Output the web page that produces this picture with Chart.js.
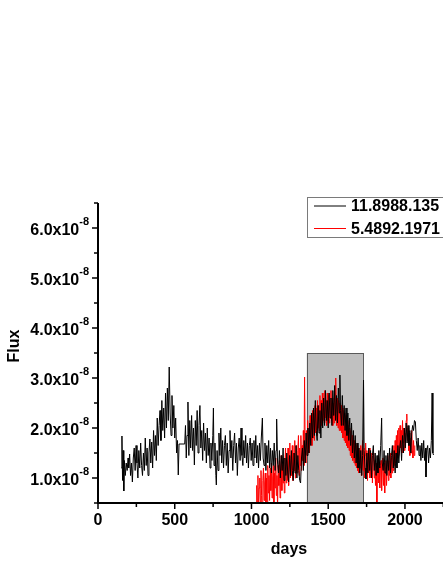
<!DOCTYPE html>
<html>
<head>
<meta charset="utf-8">
<script src="https://cdn.jsdelivr.net/npm/chart.js@4"></script>
<style>
    html, body { margin: 0; padding: 0; background: #fff; overflow: hidden; }
    #wrap { width: 443px; height: 573px; overflow: hidden; }
</style>
</head>
<body>
<div id="wrap"><canvas id="fluxChart" width="460" height="573"></canvas></div>
<script>
// flux values are in units of 1e-8
const seriesNames = ['11.8988.135', '5.4892.1971'];

const blackDays = [
    152,156,160,164,168,172,178,184,190,196,
    200,206,212,218,224,230,236,242,248,254,
    260,266,272,278,284,290,296,302,308,314,
    320,326,332,338,344,350,356,362,368,374,
    380,386,392,398,404,410,416,422,428,434,
    440,446,452,458,464,470,476,482,488,494,
    500,506,512,518,523,528,565,570,575,580,
    586,592,598,604,610,616,622,628,634,640,
    646,652,658,664,670,676,682,688,694,700,
    706,712,718,724,730,736,742,748,752,756,
    762,768,771,776,782,788,794,800,806,812,
    818,824,830,836,842,848,854,860,866,872,
    878,884,890,896,902,908,914,920,926,932,
    938,944,950,956,962,968,974,980,986,992,
    998,1004,1010,1016,1022,1028,1034,1040,1046,1052,
    1058,1064,1071,1076,1082,1088,1094,1100,1106,1112,
    1118,1124,1130,1136,1142,1148,1154,1160,1164,1170,
    1176,1182,1188,1194,1200,1206,1212,1218,1224,1230,
    1236,1242,1248,1254,1260,1266,1272,1278,1284,1290,
    1296,1302,1308,1314,1320,1326,1332,1338,1344,1350,
    1356,1362,1368,1374,1380,1386,1392,1398,1404,1410,
    1416,1422,1428,1434,1440,1446,1452,1458,1464,1470,
    1476,1482,1488,1494,1500,1506,1512,1518,1524,1530,
    1536,1542,1548,1554,1560,1566,1572,1576,1580,1586,
    1592,1598,1604,1610,1616,1622,1628,1634,1640,1646,
    1652,1658,1664,1670,1676,1682,1688,1694,1700,1706,
    1712,1718,1724,1730,1734,1740,1746,1752,1758,1764,
    1770,1776,1782,1788,1794,1800,1806,1812,1818,1824,
    1830,1836,1842,1848,1852,1858,1864,1870,1876,1882,
    1888,1894,1900,1906,1912,1918,1924,1930,1936,1942,
    1948,1954,1960,1966,1972,1978,1984,1990,1996,2002,
    2008,2014,2020,2026,2032,2038,2044,2050,2056,2062,
    2068,2074,2080,2086,2092,2098,2104,2110,2116,2122,
    2128,2134,2137,2142,2148,2154,2160,2166,2172,2177,
    2182,2186
];
const blackFlux = [
    1.20,1.84,0.95,1.55,0.74,1.35,1.05,1.30,1.15,1.40,
    1.20,1.48,1.05,1.30,0.92,1.40,1.60,1.15,1.65,1.30,
    1.00,1.55,1.20,1.70,1.25,1.05,1.50,1.15,1.80,1.25,
    1.60,1.05,1.50,1.78,1.30,1.72,1.20,1.95,1.45,1.85,
    1.35,2.20,1.65,2.05,2.35,1.75,2.55,1.95,2.40,1.80,
    2.70,2.00,2.80,2.15,3.22,2.30,1.85,2.65,2.00,2.45,
    1.80,2.20,1.50,1.75,1.06,1.68,1.68,2.05,1.40,1.85,
    2.52,1.45,2.15,1.60,2.25,1.55,2.00,1.26,2.15,1.65,
    2.35,1.50,2.05,2.45,1.60,1.95,1.35,2.10,1.55,1.90,
    1.30,2.00,1.45,1.80,1.20,1.70,1.35,1.85,2.40,1.25,
    1.70,1.05,0.86,1.55,1.15,1.90,1.45,2.00,1.30,1.75,
    1.20,1.65,1.85,1.25,1.70,1.10,1.55,1.95,1.40,1.75,
    1.15,1.65,1.90,1.30,1.70,1.05,1.60,1.80,1.35,2.00,
    1.45,1.25,1.75,1.40,1.85,1.30,1.70,1.20,1.65,1.80,
    1.35,1.70,1.25,1.75,1.40,1.85,1.30,1.65,1.20,1.70,
    1.35,1.80,2.20,1.40,1.25,1.70,1.15,1.65,1.30,1.75,
    1.20,1.60,1.10,1.55,1.25,1.70,1.15,1.55,2.18,1.30,
    1.10,1.55,1.00,1.45,1.15,1.60,0.95,1.40,1.05,1.50,
    1.10,0.92,1.45,1.05,1.55,1.15,0.95,1.50,1.10,1.65,
    1.00,1.45,1.15,0.95,0.90,1.40,1.60,1.15,1.75,1.30,
    1.90,1.45,2.00,1.50,2.10,1.65,2.30,1.80,2.40,1.85,
    2.55,1.95,1.75,2.45,1.90,2.35,1.80,2.50,2.00,2.60,
    2.05,2.75,2.15,2.55,2.00,2.70,2.20,2.60,2.05,2.75,
    2.25,2.85,2.15,2.65,2.10,2.80,2.30,3.06,2.35,2.05,
    2.65,2.05,2.45,1.95,2.40,1.85,2.30,1.75,2.20,1.65,
    2.10,1.50,1.95,1.40,1.85,1.30,1.70,1.20,1.60,1.10,
    1.55,1.05,1.45,2.96,1.55,1.20,0.98,1.50,1.10,1.60,
    1.15,1.55,1.00,1.45,1.65,1.15,1.50,1.05,1.45,1.10,
    1.55,1.20,1.65,2.20,1.30,1.15,1.55,1.10,1.45,1.05,
    1.50,1.15,1.60,1.10,1.45,1.65,1.20,1.55,1.10,1.50,
    1.20,1.65,1.30,1.60,1.75,1.35,1.85,1.50,2.00,1.60,
    2.10,1.70,2.05,1.65,1.95,1.50,1.90,2.05,1.95,2.15,
    2.12,1.75,1.55,1.80,1.45,1.65,1.35,1.70,1.40,1.75,
    1.35,1.60,1.02,1.55,1.65,1.30,1.60,1.40,1.75,2.70,
    1.50,1.46
];

const redDays = [
    1030,1034,1038,1042,1046,1050,1054,1058,1062,1066,
    1070,1074,1078,1082,1086,1090,1094,1098,1102,1106,
    1110,1114,1118,1122,1126,1130,1134,1138,1142,1146,
    1150,1154,1158,1162,1166,1170,1174,1178,1182,1186,
    1190,1194,1198,1202,1206,1210,1214,1218,1222,1226,
    1230,1234,1238,1242,1246,1250,1254,1258,1262,1266,
    1270,1274,1278,1282,1286,1290,1294,1298,1302,1306,
    1310,1314,1318,1322,1326,1330,1334,1338,1342,1346,
    1350,1354,1358,1362,1366,1370,1374,1378,1382,1386,
    1390,1394,1398,1402,1406,1410,1414,1418,1422,1426,
    1430,1434,1438,1442,1446,1450,1454,1458,1462,1466,
    1470,1474,1478,1482,1486,1490,1494,1498,1502,1506,
    1510,1514,1518,1522,1526,1530,1534,1538,1542,1546,
    1549,1552,1556,1560,1564,1568,1572,1576,1580,1584,
    1588,1592,1596,1600,1604,1608,1612,1616,1620,1624,
    1628,1632,1636,1640,1644,1648,1652,1656,1660,1664,
    1668,1672,1676,1680,1684,1688,1692,1696,1700,1704,
    1708,1712,1716,1720,1724,1728,1732,1736,1740,1744,
    1748,1752,1756,1760,1764,1768,1772,1776,1780,1784,
    1788,1792,1796,1800,1804,1808,1812,1817,1820,1824,
    1828,1832,1836,1840,1844,1848,1852,1856,1860,1864,
    1868,1872,1876,1880,1884,1888,1892,1896,1900,1904,
    1908,1912,1916,1920,1924,1928,1932,1936,1940,1944,
    1948,1952,1956,1960,1964,1968,1972,1976,1980,1984,
    1988,1992,1996,2000,2004,2008,2012,2016,2020,2024,
    2028,2032,2036,2040,2044,2048,2052,2056,2060,2064
];
const redFlux = [
    0.40,0.85,0.50,1.05,0.35,0.80,1.00,0.45,1.15,0.65,
    0.30,0.95,1.20,0.55,0.90,1.10,0.45,1.00,0.35,1.25,
    0.70,1.05,0.55,1.20,0.75,1.30,0.60,1.00,1.25,0.50,
    1.10,0.80,1.40,0.65,1.05,0.40,1.25,0.85,1.35,0.60,
    1.15,1.45,0.75,1.25,0.90,1.40,0.70,1.30,1.60,0.90,
    1.35,0.95,1.60,0.85,1.40,1.70,1.00,1.45,1.05,1.65,
    0.95,1.50,1.15,1.75,1.00,1.45,1.65,1.10,1.55,1.85,
    1.05,1.60,1.25,1.85,1.15,1.65,1.35,1.95,1.25,3.02,
    1.55,1.30,1.95,1.45,2.15,1.60,2.00,1.50,2.25,1.70,
    2.20,1.65,2.35,1.80,2.30,1.75,2.45,1.90,2.40,1.85,
    2.55,2.00,2.45,1.95,2.65,2.10,2.55,2.05,2.70,2.15,
    2.60,2.10,2.75,2.20,2.55,2.05,2.70,2.15,2.65,2.10,
    2.55,2.20,2.75,2.15,2.60,2.05,2.50,2.10,2.70,2.20,
    3.00,2.25,2.05,2.60,2.00,2.55,1.95,2.50,1.95,2.45,
    1.90,2.40,1.80,2.35,1.75,2.30,1.70,2.25,1.65,2.15,
    1.60,2.05,1.55,2.00,1.45,1.95,1.40,1.85,1.35,1.80,
    1.30,1.75,1.25,1.70,1.20,1.65,1.15,1.60,1.10,1.55,
    1.20,1.65,1.05,1.50,1.75,1.15,1.60,1.00,1.45,1.70,
    1.10,1.55,0.95,1.50,1.10,1.60,1.00,1.45,1.05,1.50,
    0.90,1.35,1.50,1.00,1.35,0.85,1.30,0.40,1.25,1.40,
    0.90,1.30,0.80,1.25,1.35,0.75,1.20,1.40,0.85,1.30,
    0.70,1.20,1.35,0.85,1.25,1.45,0.95,1.35,1.05,1.50,
    1.00,1.40,1.10,1.55,1.15,1.65,1.25,1.75,1.30,1.85,
    1.40,1.95,1.45,2.00,1.55,2.05,1.60,1.95,1.50,2.15,
    1.70,2.00,1.55,1.90,1.65,2.15,2.28,1.75,2.00,1.55,
    1.90,1.45,1.80,1.50,1.95,1.55,1.40,1.75,1.45,1.65
];

// shaded interval: [startDay, endDay, lowFlux, highFlux]
const shadeBox = [1360, 1727, 0.5, 3.5];

const xRange = [0, 2300];
const yRange = [0.5, 6.5];
const xMajorTicks = [0, 500, 1000, 1500, 2000];
const xMinorTicks = [250, 750, 1250, 1750, 2250];
const yMajorTicks = [1, 2, 3, 4, 5, 6];
const yMinorTicks = [0.5, 1.5, 2.5, 3.5, 4.5, 5.5, 6.5];

const FONT = '"Liberation Sans", Arial, sans-serif';

function toPoints(days, flux) {
    return days.map((d, i) => ({ x: d, y: flux[i] }));
}

const shadePlugin = {
    id: 'shade',
    beforeDatasetsDraw(chart) {
        const { ctx, scales: { x, y } } = chart;
        const x0 = x.getPixelForValue(shadeBox[0]);
        const x1 = x.getPixelForValue(shadeBox[1]);
        const y0 = y.getPixelForValue(shadeBox[3]);
        const y1 = y.getPixelForValue(shadeBox[2]);
        ctx.save();
        ctx.fillStyle = '#c0c0c0';
        ctx.fillRect(x0, y0, x1 - x0, y1 - y0);
        ctx.strokeStyle = '#5a5a5a';
        ctx.lineWidth = 1;
        ctx.strokeRect(Math.round(x0) + 0.5, Math.round(y0) + 0.5, Math.round(x1 - x0), Math.round(y1 - y0));
        ctx.restore();
    }
};

const axesPlugin = {
    id: 'originAxes',
    afterDatasetsDraw(chart) {
        const { ctx, chartArea: a, scales: { x, y } } = chart;
        ctx.save();
        ctx.strokeStyle = '#000';
        ctx.fillStyle = '#000';

        // axis lines
        ctx.lineWidth = 2;
        ctx.beginPath();
        ctx.moveTo(a.left, a.top);
        ctx.lineTo(a.left, a.bottom);
        ctx.lineTo(chart.width, a.bottom);
        ctx.stroke();

        // ticks
        ctx.lineWidth = 1.5;
        ctx.beginPath();
        yMajorTicks.forEach(v => { const p = y.getPixelForValue(v); ctx.moveTo(a.left - 6, p); ctx.lineTo(a.left, p); });
        yMinorTicks.forEach(v => { const p = y.getPixelForValue(v); ctx.moveTo(a.left - 4, p); ctx.lineTo(a.left, p); });
        xMajorTicks.forEach(v => { const p = x.getPixelForValue(v); ctx.moveTo(p, a.bottom); ctx.lineTo(p, a.bottom + 6); });
        xMinorTicks.forEach(v => { const p = x.getPixelForValue(v); ctx.moveTo(p, a.bottom); ctx.lineTo(p, a.bottom + 4); });
        ctx.stroke();

        // y tick labels with superscript exponent
        ctx.textBaseline = 'alphabetic';
        yMajorTicks.forEach(v => {
            const p = y.getPixelForValue(v);
            ctx.font = 'bold 11px ' + FONT;
            ctx.textAlign = 'right';
            ctx.fillText('-8', 89, p - 3);
            const supW = ctx.measureText('-8').width;
            ctx.font = 'bold 16px ' + FONT;
            ctx.fillText(v.toFixed(1) + 'x10', 89 - supW, p + 7);
        });

        // x tick labels
        ctx.font = 'bold 16px ' + FONT;
        ctx.textAlign = 'center';
        ctx.textBaseline = 'middle';
        xMajorTicks.forEach(v => {
            ctx.fillText(String(v), x.getPixelForValue(v), a.bottom + 18);
        });

        // axis titles
        ctx.fillText('days', 289, 550);
        ctx.save();
        ctx.translate(15, 346);
        ctx.rotate(-Math.PI / 2);
        ctx.fillText('Flux', 0, 0);
        ctx.restore();

        // legend
        ctx.lineWidth = 1;
        ctx.strokeStyle = '#7a7a7a';
        ctx.strokeRect(307.5, 197.5, 200, 40);
        ctx.textAlign = 'left';
        chart.data.datasets.forEach((ds, i) => {
            const ly = 206 + i * 22.5;
            ctx.strokeStyle = ds.borderColor;
            ctx.beginPath();
            ctx.moveTo(314, ly);
            ctx.lineTo(346, ly);
            ctx.stroke();
            ctx.fillStyle = '#000';
            ctx.fillText(ds.label, 351, ly + 1);
        });
        ctx.restore();
    }
};

new Chart(document.getElementById('fluxChart'), {
    type: 'line',
    data: {
        datasets: [
            { label: seriesNames[0], data: toPoints(blackDays, blackFlux), borderColor: '#000000', borderWidth: 1, pointRadius: 0, tension: 0 },
            { label: seriesNames[1], data: toPoints(redDays, redFlux), borderColor: '#ff0000', borderWidth: 1, pointRadius: 0, tension: 0 }
        ]
    },
    options: {
        responsive: false,
        animation: false,
        layout: { padding: { left: 98, top: 203, right: 9, bottom: 70 } },
        plugins: { legend: { display: false }, tooltip: { enabled: false } },
        scales: {
            x: { type: 'linear', min: xRange[0], max: xRange[1], display: false },
            y: { type: 'linear', min: yRange[0], max: yRange[1], display: false }
        }
    },
    plugins: [shadePlugin, axesPlugin]
});
</script>
</body>
</html>
